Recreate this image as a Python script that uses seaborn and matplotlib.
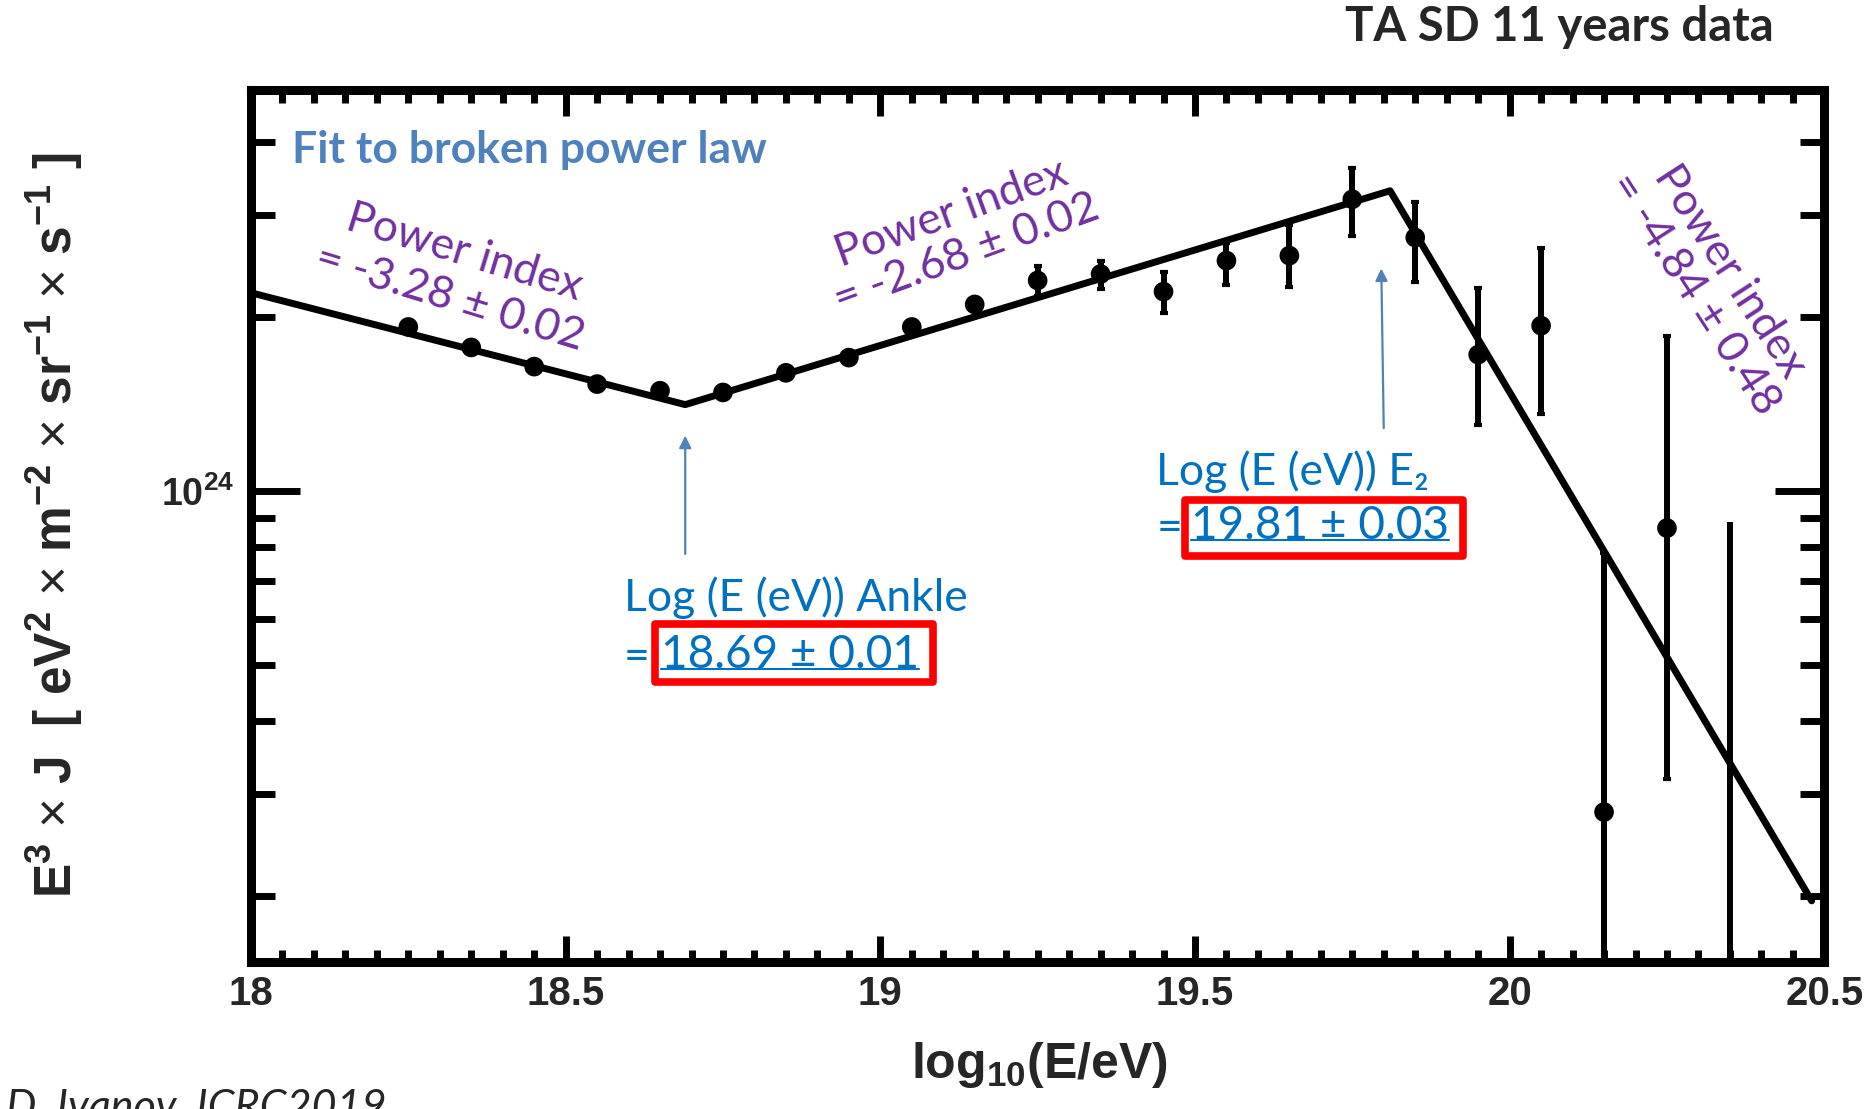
import matplotlib
matplotlib.use("Agg")
import matplotlib.pyplot as plt
import seaborn as sns
import numpy as np
import pandas as pd
from matplotlib.ticker import FixedLocator, FixedFormatter, LogLocator, NullFormatter, MultipleLocator
from matplotlib.patches import Rectangle
from matplotlib.lines import Line2D

# ---------------- data ----------------
log_energy = [18.25, 18.35, 18.45, 18.55, 18.65, 18.75, 18.85, 18.95, 19.05, 19.15,
              19.25, 19.35, 19.45, 19.55, 19.65, 19.75, 19.85, 19.95, 20.05, 20.15, 20.25]
flux = [1.92e24, 1.77e24, 1.64e24, 1.53e24, 1.49e24, 1.48e24, 1.60e24, 1.70e24, 1.92e24, 2.10e24,
        2.31e24, 2.37e24, 2.21e24, 2.50e24, 2.55e24, 3.19e24, 2.74e24, 1.72e24, 1.93e24, 2.79e23, 8.63e23]
flux_lo = [1.89e24, 1.74e24, 1.61e24, 1.50e24, 1.46e24, 1.45e24, 1.57e24, 1.67e24, 1.88e24, 2.05e24,
           2.17e24, 2.23e24, 2.03e24, 2.27e24, 2.25e24, 2.76e24, 2.30e24, 1.30e24, 1.36e24, 1.00e23, 3.18e23]
flux_hi = [1.95e24, 1.80e24, 1.67e24, 1.56e24, 1.52e24, 1.51e24, 1.63e24, 1.73e24, 1.96e24, 2.15e24,
           2.45e24, 2.50e24, 2.39e24, 2.68e24, 2.88e24, 3.62e24, 3.16e24, 2.24e24, 2.63e24, 7.81e23, 1.85e24]
# bin with no visible point, only an error bar
bar_only_x = [20.35]
bar_only_lo = [1.00e23]
bar_only_hi = [8.84e23]

# broken power law fit (vertices)
fit_x = [18.0, 18.69, 19.81, 20.48]
fit_y = [2.20e24, 1.41e24, 3.30e24, 1.96e23]

x_ticks = [18, 18.5, 19, 19.5, 20, 20.5]
x_tick_labels = ["18", "18.5", "19", "19.5", "20", "20.5"]
y_ticks = [1e24]
y_tick_labels = [r"10$^{\mathbf{24}}$"]

ankle = 18.69
e2 = 19.80

# ---------------- style ----------------
sns.set_style("ticks")
plt.rcParams.update({
    "font.family": ["Liberation Sans", "DejaVu Sans"],
    "mathtext.fontset": "custom",
    "mathtext.rm": "Liberation Sans",
    "mathtext.bf": "Liberation Sans:bold",
    "mathtext.it": "Liberation Sans:italic",
})

PURPLE = "#7030A0"
BLUE = "#0070C0"
STEEL = "#4F81BD"
CAL = ["Lato", "DejaVu Sans"]

fig = plt.figure(figsize=(18.73, 11.09), dpi=100)
ax = fig.add_axes([0.134, 0.133, 0.840, 0.786])
ax.set_yscale("log")

df_fit = pd.DataFrame({"x": fit_x, "y": fit_y})
sns.lineplot(data=df_fit, x="x", y="y", ax=ax, color="black", lw=5, sort=False, zorder=3)

f = np.array(flux)
lo = np.array(flux_lo)
hi = np.array(flux_hi)
ax.errorbar(log_energy, flux, yerr=[f - lo, hi - f], fmt="none", ecolor="black",
            elinewidth=4.3, capsize=3, capthick=3, zorder=3)
ax.vlines(bar_only_x, bar_only_lo, bar_only_hi, color="black", lw=4.3, zorder=3)
df_pts = pd.DataFrame({"x": log_energy, "y": flux})
sns.scatterplot(data=df_pts, x="x", y="y", ax=ax, color="black", s=200, edgecolor="none", zorder=4)

ax.set_xlim(18, 20.5)
ax.set_ylim(1.54e23, 4.93e24)
ax.set_xlabel("")
ax.set_ylabel("")

ax.xaxis.set_major_locator(FixedLocator(x_ticks))
ax.xaxis.set_major_formatter(FixedFormatter(x_tick_labels))
ax.xaxis.set_minor_locator(MultipleLocator(0.05))
ax.yaxis.set_major_locator(FixedLocator(y_ticks))
ax.yaxis.set_major_formatter(FixedFormatter(y_tick_labels))
ax.yaxis.set_minor_locator(LogLocator(base=10, subs=np.arange(2, 10), numticks=30))
ax.yaxis.set_minor_formatter(NullFormatter())

ax.tick_params(which="both", direction="in", top=True, right=True, width=5, color="black")
ax.tick_params(axis="x", which="major", length=19, pad=10, labelsize=29)
ax.tick_params(axis="x", which="minor", length=9)
ax.tick_params(axis="y", which="major", length=35, pad=12, labelsize=27)
ax.tick_params(axis="y", which="minor", length=17)
for lab in ax.get_xticklabels() + ax.get_yticklabels():
    lab.set_fontweight("bold")
for sp in ax.spines.values():
    sp.set_visible(True)
    sp.set_linewidth(6.5)
    sp.set_color("black")

# axis labels
fig.text(0.555, 0.040, r"log$_{\mathbf{10}}$(E/eV)", ha="center", va="center",
         fontsize=36, fontweight="bold")
fig.text(0.0293, 0.526,
         r"E$^{\mathbf{3}}$ $\times$ J  [ eV$^{\mathbf{2}}$ $\times$ m$^{\mathbf{-2}}$ $\times$ sr$^{\mathbf{-1}}$ $\times$ s$^{\mathbf{-1}}$ ]",
         ha="center", va="center", rotation=90, fontsize=37, fontweight="bold")

# title / credit
fig.text(0.947, 0.976, "TA SD 11 years data", ha="right", va="center",
         fontsize=34, fontweight="bold", family=CAL)
fig.text(0.003, 0.019, "D. Ivanov, ICRC2019", ha="left", va="top",
         fontsize=31, style="italic", family=CAL)

# in-plot annotations
fig.text(0.156, 0.865, "Fit to broken power law", ha="left", va="center",
         fontsize=32, fontweight="bold", color=STEEL, family=CAL)
fig.text(0.2440, 0.752, "Power index\n= -3.28 \u00b1 0.02", ha="center", va="center",
         rotation=-17, rotation_mode="anchor", multialignment="center",
         fontsize=32, color=PURPLE, family=CAL, linespacing=1.2)
fig.text(0.512, 0.789, "Power index\n= -2.68 \u00b1 0.02", ha="center", va="center",
         rotation=20, rotation_mode="anchor", multialignment="center",
         fontsize=32, color=PURPLE, family=CAL, linespacing=1.05)
fig.text(0.914, 0.745, "Power index\n= -4.84 \u00b1 0.48", ha="center", va="center",
         rotation=-57, rotation_mode="anchor", multialignment="center",
         fontsize=32, color=PURPLE, family=CAL, linespacing=1.05)

W, H = 1568.0, 928.0
def fx(px):
    return px / W
def fy(py):
    return 1 - py / H

fig.text(fx(522), fy(500), "Log (E (eV)) Ankle", ha="left", va="center",
         fontsize=32, color=BLUE, family=CAL)
fig.text(fx(522), fy(550), "=", ha="left", va="center", fontsize=32, color=BLUE, family=CAL)
t1 = fig.text(fx(553), fy(548), "18.69 \u00b1 0.01", ha="left", va="center",
              fontsize=33, color=BLUE, family=CAL)
fig.text(fx(968), fy(395), "Log (E (eV)) E\u2082", ha="left", va="center",
         fontsize=32, color=BLUE, family=CAL)
fig.text(fx(968), fy(442), "=", ha="left", va="center", fontsize=32, color=BLUE, family=CAL)
t2 = fig.text(fx(997), fy(440), "19.81 \u00b1 0.03", ha="left", va="center",
              fontsize=33, color=BLUE, family=CAL)

# red boxes
fig.patches.append(Rectangle((fx(548), fy(571)), fx(781) - fx(548), fy(522) - fy(571),
                             transform=fig.transFigure, fill=False, ec="#FF0000", lw=5.5, joinstyle="round"))
fig.patches.append(Rectangle((fx(992), fy(465)), fx(1225) - fx(992), fy(418) - fy(465),
                             transform=fig.transFigure, fill=False, ec="#FF0000", lw=5.5, joinstyle="round"))

# underlines (hyperlink style)
fig.canvas.draw()
inv = fig.transFigure.inverted()
for t in (t1, t2):
    bb = t.get_window_extent()
    (x0, y0), (x1, y1) = inv.transform([[bb.x0, bb.y0], [bb.x1, bb.y1]])
    yl = y0 + 0.17 * (y1 - y0)
    fig.lines.append(Line2D([x0, x1], [yl, yl], transform=fig.transFigure, color=BLUE, lw=1.5))

# arrows
ax.annotate("", xy=(ankle, 1.26e24), xytext=(ankle, 7.7e23),
            arrowprops=dict(arrowstyle="-|>", color=STEEL, lw=1.6, mutation_scale=18))
ax.annotate("", xy=(e2 - 0.004, 2.45e24), xytext=(e2, 1.27e24),
            arrowprops=dict(arrowstyle="-|>", color=STEEL, lw=1.6, mutation_scale=18))

fig.savefig("out.png", dpi=100)
